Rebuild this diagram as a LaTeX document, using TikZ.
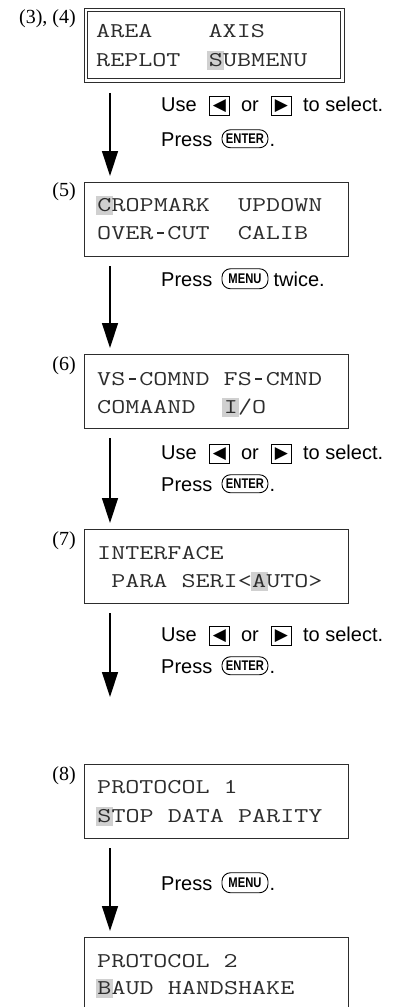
\documentclass[tikz,border=0pt]{standalone}
\usepackage{fontspec}
\setmainfont{Liberation Serif}
\newfontfamily\lcdfont[FakeStretch=1.3]{Latin Modern Mono}
\newfontfamily\sayfont{Liberation Sans}
\newfontfamily\capfont[FakeStretch=0.8]{Liberation Sans}
\newfontfamily\symfont{DejaVu Sans}
\usetikzlibrary{arrows.meta, positioning}
\definecolor{cursorgray}{RGB}{208,208,208}
\definecolor{lcdink}{RGB}{45,45,45}
\newcommand{\cursor}[1]{\hspace*{-1.3pt}{\setlength{\fboxsep}{0pt}\colorbox{cursorgray}{\rule[-4pt]{0pt}{19pt}\makebox[17pt]{#1}}}\hspace*{-1.3pt}}
\newcommand{\hy}{\makebox[\fontcharwd\font`\-][c]{\rule[0.26em]{0.34em}{0.05em}}}

\begin{document}
\begin{tikzpicture}[x=1pt, y=-1pt,
  panel/.style={draw=lcdink, line width=1.1pt, anchor=north west, minimum width=264pt, minimum height=74pt, inner sep=0},
  lcd/.style={font=\lcdfont\fontsize{21}{25}\selectfont, text=lcdink, anchor=base west, inner sep=0},
  num/.style={font=\fontsize{20}{24}\selectfont, anchor=base east, inner sep=0},
  say/.style={font=\sayfont\fontsize{20}{24}\selectfont, inner sep=0, text height=14.5pt, text depth=0pt},
  dirkey/.style={draw, line width=0.9pt, minimum width=20pt, minimum height=19pt, inner sep=0, font=\symfont\fontsize{17}{17}\selectfont},
  keycap/.style={draw, line width=0.9pt, rounded corners=8.5pt, minimum width=46pt, minimum height=18pt, inner sep=0, font=\capfont\bfseries\fontsize{14}{14}\selectfont},
  flow/.style={line width=1.4pt, -{Triangle[length=25pt, width=16pt]}, shorten <=9pt, shorten >=6pt}]
  \useasboundingbox (0,0) rectangle (399,1007);
  \clip (0,0) rectangle (399,1007);

  % Display panels
  \node[panel, double, double distance=2.2pt, line width=1pt, minimum width=256.8pt, minimum height=70.8pt] (box1) at (85.1,9.1) {};
  \node[panel] (box2) at (84,182) {};
  \node[panel] (box3) at (84,354) {};
  \node[panel] (box4) at (84,529) {};
  \node[panel] (box5) at (84,764) {};
  \node[panel, minimum height=90pt] (box6) at (84,937) {};

  % Step numbers
  \node[num] (n34) at (76,23) {(3), (4)};
  \node[num] (n5) at (76,196) {(5)};
  \node[num] (n6) at (76,370) {(6)};
  \node[num] (n7) at (76,545) {(7)};
  \node[num] (n8) at (76,780) {(8)};

  % Panel texts
  \node[lcd] (t1a) at (96,37) {AREA~~~~AXIS};
  \node[lcd] (t1b) at (96,66) {REPLOT~~\cursor{S}UBMENU};
  \node[lcd] (t2a) at (97,211) {\cursor{C}ROPMARK~~UPDOWN};
  \node[lcd] (t2b) at (97,239) {OVER\hy CUT~~CALIB};
  \node[lcd] (t3a) at (97,385) {VS\hy COMND FS\hy CMND};
  \node[lcd] (t3b) at (97,413) {COMAAND~~\cursor{I}/O};
  \node[lcd] (t4a) at (97,559) {INTERFACE};
  \node[lcd] (t4b) at (97,587) {\hphantom{P}PARA SERI<\cursor{A}UTO>};
  \node[lcd] (t5a) at (97,793) {PROTOCOL 1};
  \node[lcd] (t5b) at (97,822) {\cursor{S}TOP DATA PARITY};
  \node[lcd] (t6a) at (97,967) {PROTOCOL 2};
  \node[lcd] (t6b) at (97,994) {\cursor{B}AUD HANDSHAKE};

  % Instructions after (3), (4)
  \node[say, anchor=base west] (use1) at (161,111) {Use};
  \node[dirkey, right=12pt of use1, yshift=-2pt] (lt1) {◀};
  \node[say, right=11pt of lt1, yshift=2pt] (or1) {or};
  \node[dirkey, right=12pt of or1, yshift=-2pt] (rt1) {▶};
  \node[say, right=11pt of rt1, yshift=2pt] (sel1) {to select.};
  \node[say, anchor=base west] (press1) at (161,146) {Press};
  \node[keycap, right=9pt of press1] (enter1) {ENTER};
  \node[say, right=1pt of enter1] (dot1) {.};

  % Instructions after (5)
  \node[say, anchor=base west] (press2) at (161,286) {Press};
  \node[keycap, right=9pt of press2, minimum height=20pt] (menu2) {MENU};
  \node[say, right=5pt of menu2] (twice2) {twice.};

  % Instructions after (6)
  \node[say, anchor=base west] (use3) at (161,459) {Use};
  \node[dirkey, right=12pt of use3, yshift=-2pt] (lt3) {◀};
  \node[say, right=11pt of lt3, yshift=2pt] (or3) {or};
  \node[dirkey, right=12pt of or3, yshift=-2pt] (rt3) {▶};
  \node[say, right=11pt of rt3, yshift=2pt] (sel3) {to select.};
  \node[say, anchor=base west] (press3) at (161,491) {Press};
  \node[keycap, right=9pt of press3] (enter3) {ENTER};
  \node[say, right=1pt of enter3] (dot3) {.};

  % Instructions after (7)
  \node[say, anchor=base west] (use4) at (161,641) {Use};
  \node[dirkey, right=12pt of use4, yshift=-2pt] (lt4) {◀};
  \node[say, right=11pt of lt4, yshift=2pt] (or4) {or};
  \node[dirkey, right=12pt of or4, yshift=-2pt] (rt4) {▶};
  \node[say, right=11pt of rt4, yshift=2pt] (sel4) {to select.};
  \node[say, anchor=base west] (press4) at (161,673) {Press};
  \node[keycap, right=9pt of press4] (enter4) {ENTER};
  \node[say, right=1pt of enter4] (dot4) {.};

  % Instructions after (8)
  \node[say, anchor=base west] (press5) at (161,890) {Press};
  \node[keycap, right=9pt of press5, minimum height=20pt] (menu5) {MENU};
  \node[say, right=1pt of menu5] (dot5) {.};

  % Flow arrows
  \coordinate (spine) at (110,0);
  \coordinate (halt) at (110,697);
  \draw[flow, shorten <=12pt] (box1.south -| spine) -- (box2.north -| spine);
  \draw[flow] (box2.south -| spine) -- (box3.north -| spine);
  \draw[flow] (box3.south -| spine) -- (box4.north -| spine);
  \draw[flow, shorten >=0pt] (box4.south -| spine) -- (halt);
  \draw[flow] (box5.south -| spine) -- (box6.north -| spine);
\end{tikzpicture}
\end{document}
